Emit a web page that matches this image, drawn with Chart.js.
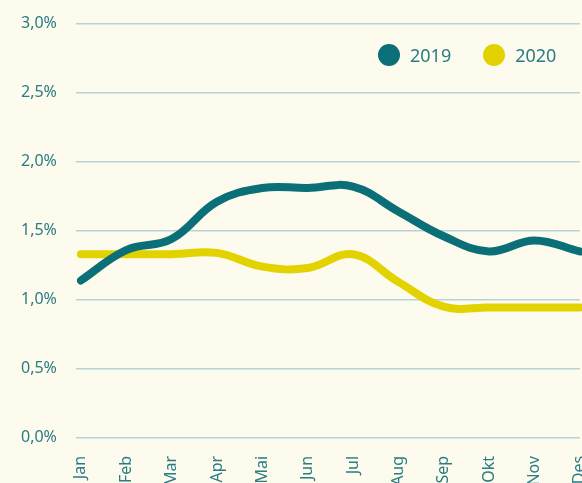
<!DOCTYPE html>
<html>
<head>
<meta charset="utf-8">
<script src="https://cdn.jsdelivr.net/npm/chart.js@4"></script>
<style>
  html, body { margin: 0; padding: 0; background: #fdfaee; overflow: hidden; }
  #wrap { position: relative; width: 582px; height: 483px; overflow: hidden; }
  #box { position: absolute; left: 0; top: -5px; width: 617px; height: 509px; }
  #legend { position: absolute; top: 43px; left: 378px; display: flex; font-family: "Noto Sans", sans-serif; font-size: 18px; color: #2a7d84; }
  #legend .item { display: flex; align-items: center; margin-right: 32px; }
  #legend .dot { width: 22px; height: 22px; border-radius: 50%; margin-right: 10px; }
</style>
</head>
<body>
<div id="wrap">
  <div id="box"><canvas id="chart"></canvas></div>
  <div id="legend"></div>
</div>
<script>
const months = ['Jan', 'Feb', 'Mar', 'Apr', 'Mai', 'Jun', 'Jul', 'Aug', 'Sep', 'Okt', 'Nov', 'Des'];
const values2019 = [1.14, 1.36, 1.44, 1.71, 1.81, 1.81, 1.82, 1.64, 1.46, 1.35, 1.43, 1.35];
const values2020 = [1.33, 1.33, 1.33, 1.34, 1.24, 1.23, 1.33, 1.13, 0.95, 0.945, 0.945, 0.945];
const yTicks = [0, 0.5, 1, 1.5, 2, 2.5, 3];

const teal = '#0b6f77';
const yellow = '#e2d300';
const textCol = '#2a7d84';
const gridCol = '#b6d4d7';

function pct(v){
  return v.toFixed(1).replace('.', ',') + '%';
}

let chart = new Chart(document.getElementById('chart'), {
  type: 'line',
  data: {
    labels: months,
    datasets: [
      { label: '2019', data: values2019, borderColor: teal, backgroundColor: teal },
      { label: '2020', data: values2020, borderColor: yellow, backgroundColor: yellow }
    ]
  },
  options: {
    responsive: true,
    maintainAspectRatio: false,
    animation: false,
    layout: { padding: { left: 2, top: 3, right: 6, bottom: 0 } },
    elements: {
      line: { borderWidth: 8, tension: 0.4, borderCapStyle: 'round', borderJoinStyle: 'round' },
      point: { radius: 0, hoverRadius: 0 }
    },
    plugins: {
      legend: { display: false },
      tooltip: { enabled: false }
    },
    scales: {
      x: {
        offset: false,
        grid: { display: false, drawTicks: false },
        border: { display: false },
        ticks: {
          color: textCol,
          font: { family: 'Noto Sans', size: 16 },
          minRotation: 90,
          maxRotation: 90,
          padding: 18,
          autoSkip: false
        }
      },
      y: {
        min: 0,
        max: 3,
        afterBuildTicks: axis => { axis.ticks = yTicks.map(v => ({ value: v })); },
        grid: { color: gridCol, lineWidth: 1.5, drawTicks: true, tickLength: 5 },
        border: { display: false },
        ticks: {
          color: textCol,
          font: { family: 'Noto Sans', size: 16 },
          padding: 19,
          callback: v => pct(v)
        }
      }
    }
  }
});

// legend as html, built from the datasets
let legendHtml = '';
chart.data.datasets.forEach(ds => {
  legendHtml += `<div class="item"><span class="dot" style="background:${ds.borderColor}"></span>${ds.label}</div>`;
});
document.getElementById('legend').innerHTML = legendHtml;
</script>
</body>
</html>
